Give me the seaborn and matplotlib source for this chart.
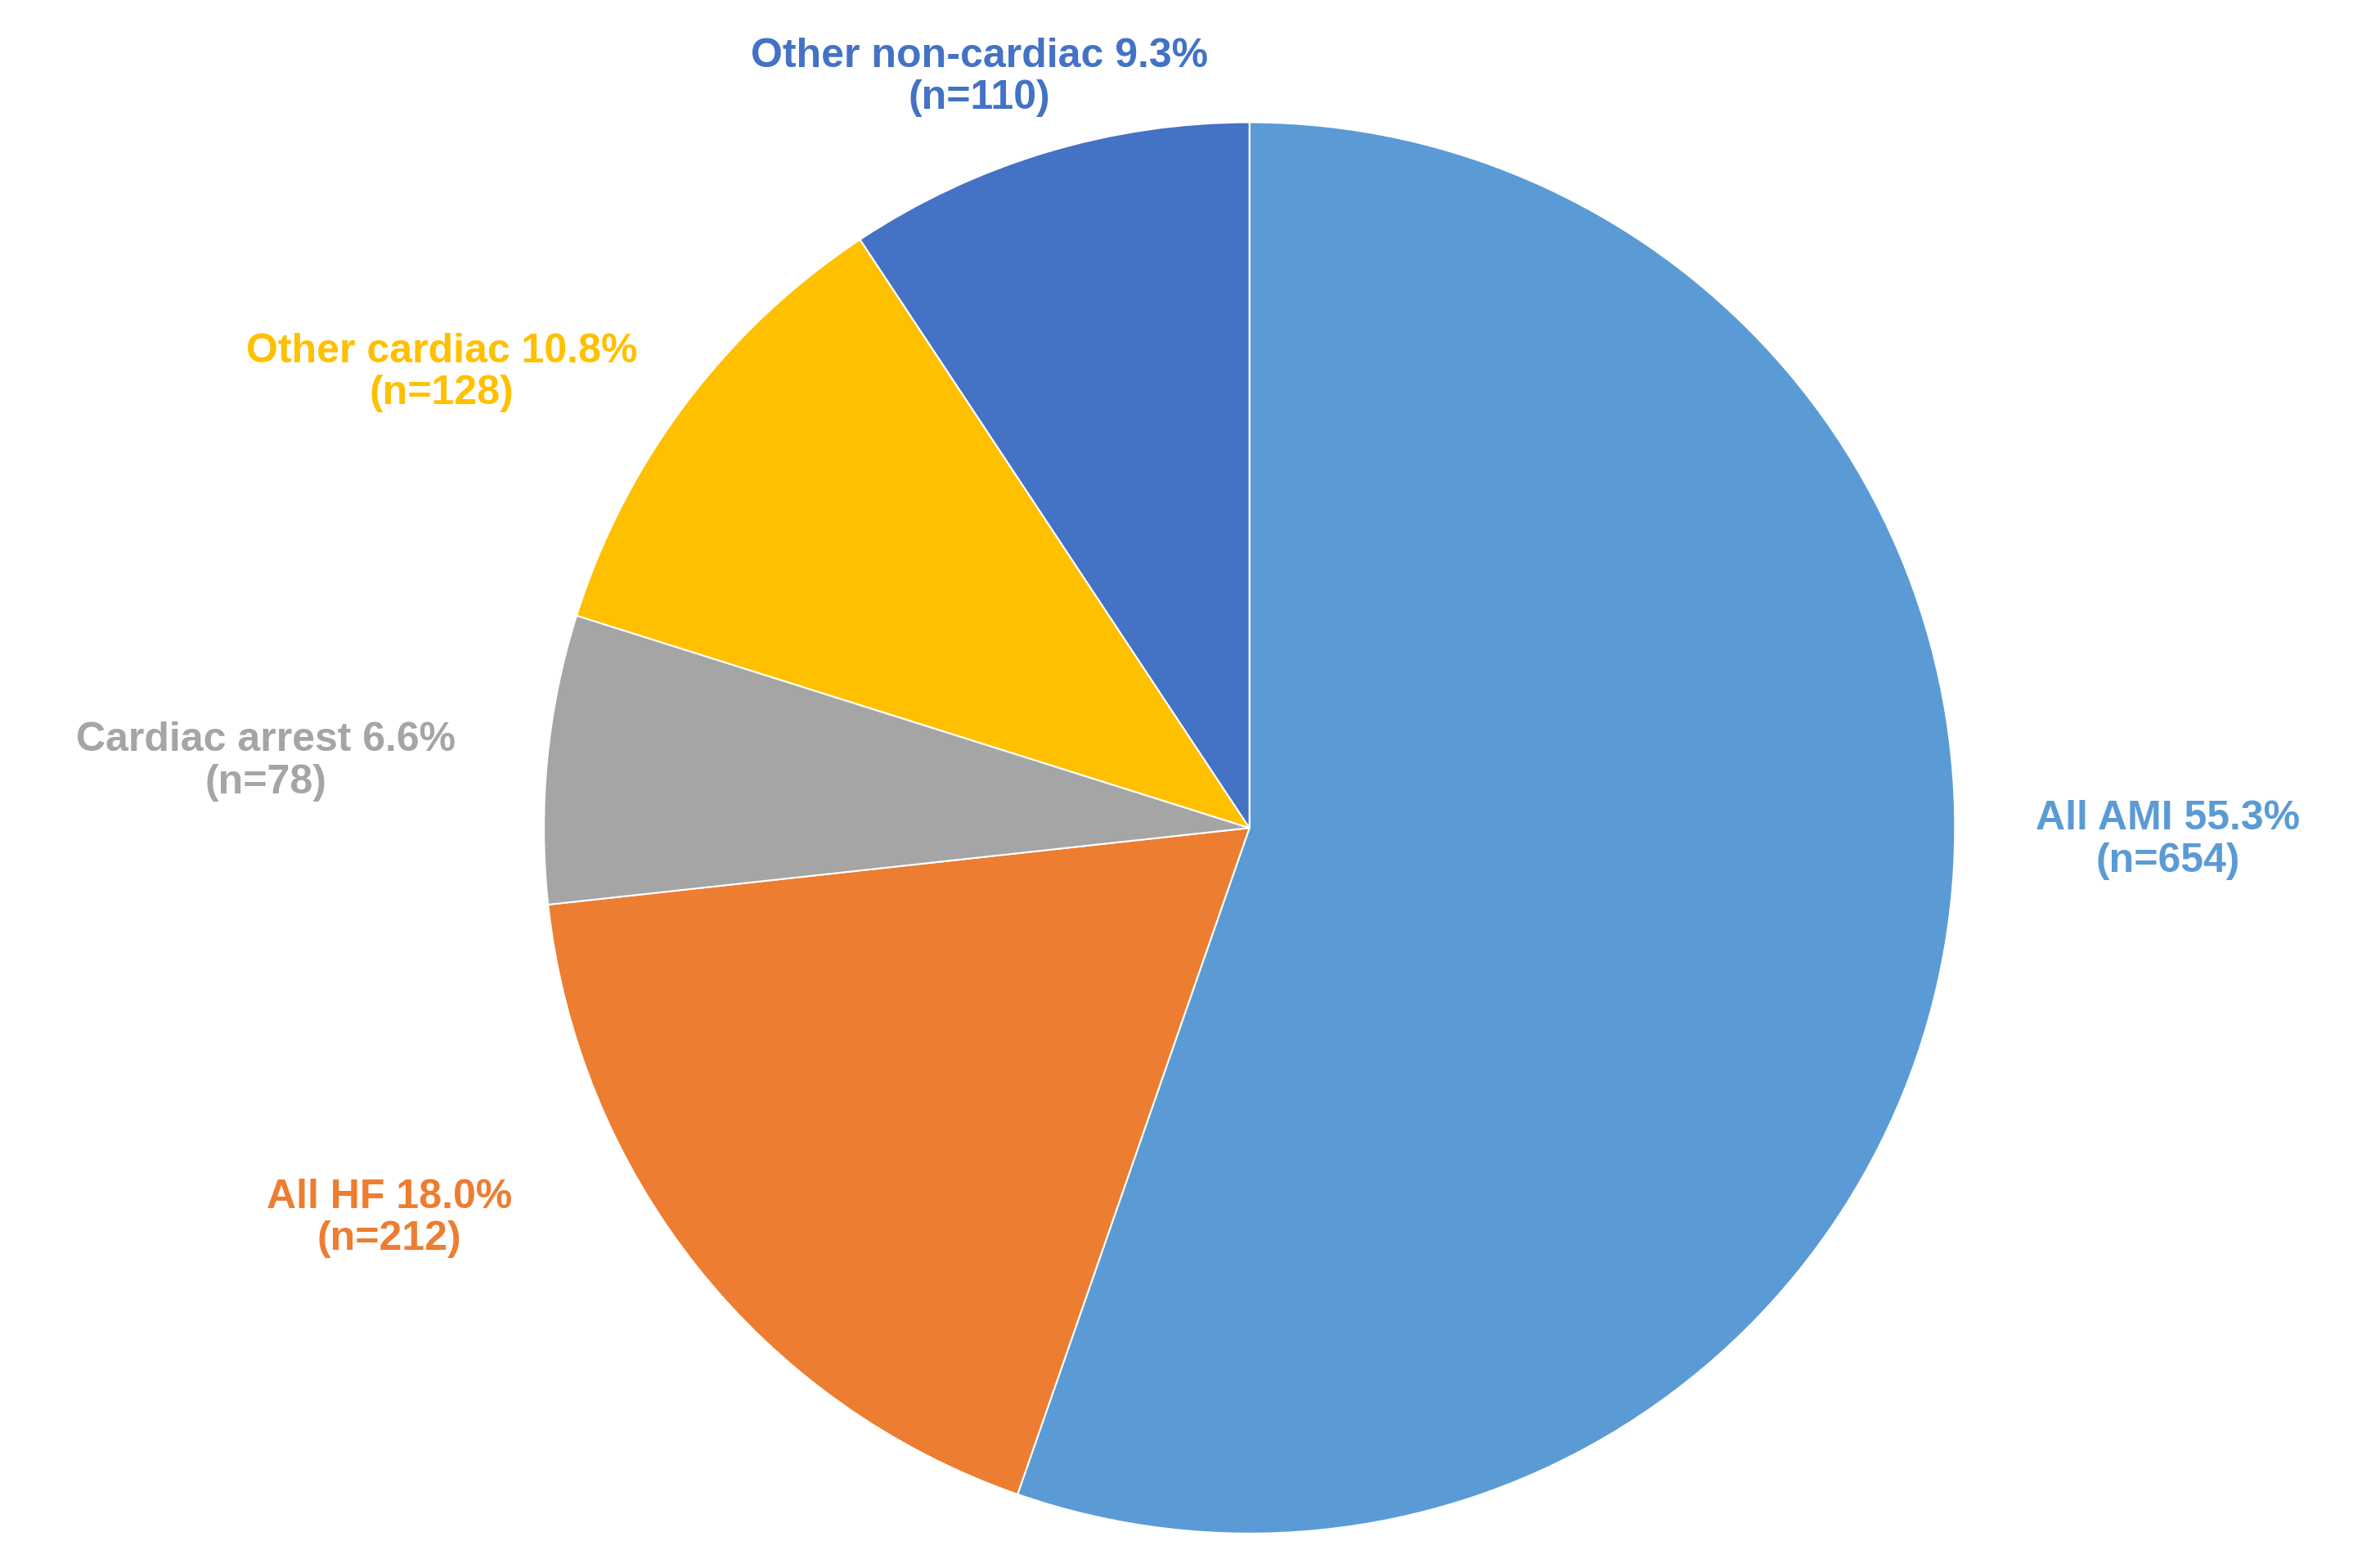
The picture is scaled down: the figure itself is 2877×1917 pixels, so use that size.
import matplotlib
matplotlib.use("Agg")
import matplotlib.pyplot as plt
import seaborn as sns

sns.set_theme(style="white")
plt.rcParams['font.family'] = ['Liberation Sans', 'DejaVu Sans']

categories = ["All AMI", "All HF", "Cardiac arrest", "Other cardiac", "Other non-cardiac"]
counts = [654, 212, 78, 128, 110]
percents = ["55.3%", "18.0%", "6.6%", "10.8%", "9.3%"]
colors = ["#5B9BD5", "#ED7D31", "#A5A5A5", "#FFC000", "#4472C4"]
label_pos = [(1.302, -0.017), (-1.219, -0.553), (-1.394, 0.094), (-1.145, 0.645), (-0.383, 1.064)]

fig = plt.figure(figsize=(28.77, 19.17), dpi=100)
ax = fig.add_axes([0.531 - 0.30, 0.472 - 0.45, 0.60, 0.90])
ax.pie(counts, colors=colors, startangle=90, counterclock=False, radius=1,
       wedgeprops=dict(linewidth=1.5, edgecolor="white"))
for cat, n, p, c, (x, y) in zip(categories, counts, percents, colors, label_pos):
    ax.text(x, y, f"{cat} {p}\n(n={n})", ha="center", va="center", color=c,
            fontsize=36, fontweight="bold", linespacing=1.15)
ax.set_xlim(-1, 1)
ax.set_ylim(-1, 1)
ax.set_aspect("equal")
ax.axis("off")
fig.savefig("out.png", dpi=100)
